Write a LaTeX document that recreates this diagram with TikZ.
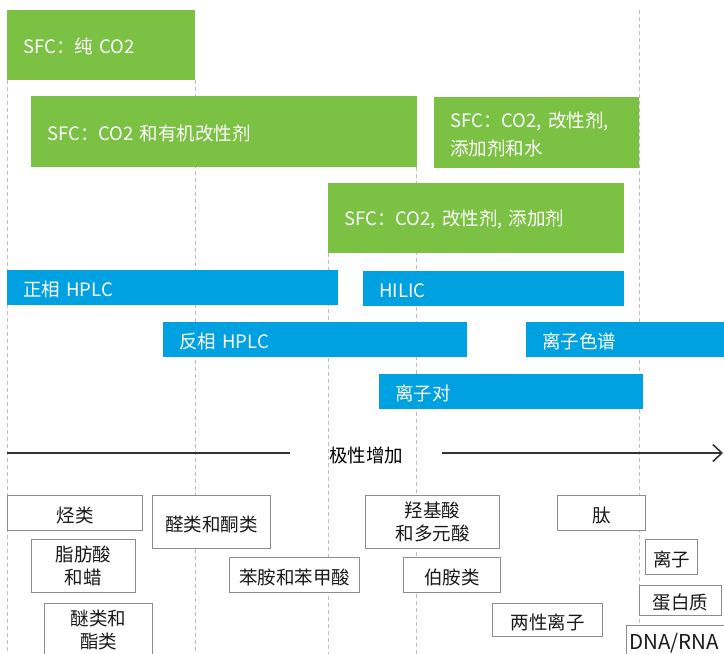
\documentclass[tikz,border=0pt]{standalone}
\usepackage{fontspec}
\setmainfont{Noto Sans CJK SC}
\usetikzlibrary{arrows.meta,backgrounds}
\definecolor{sfcgreen}{HTML}{7BC143}
\definecolor{hplcblue}{HTML}{00A1E1}
\definecolor{boxgray}{HTML}{8C8C8C}
\definecolor{gridgray}{HTML}{BDBDBD}
\definecolor{axisgray}{HTML}{333333}
\tikzset{
  colbox/.style={text=white, inner xsep=16pt, inner ysep=0pt, align=left, anchor=north west,
    font=\fontsize{18.5}{28}\selectfont, execute at begin node={\rule{0pt}{18.8pt}}},
  gb/.style={colbox, fill=sfcgreen},
  bb/.style={colbox, fill=hplcblue},
  wb/.style={draw=boxgray, fill=white, line width=1pt, align=center, anchor=north west,
    inner sep=0pt, text=black!90, font=\fontsize{18.5}{23.5}\selectfont,
    execute at begin node={\rule{0pt}{19.8pt}}},
  gridline/.style={draw=gridgray, dash pattern=on 4pt off 3pt, line width=0.9pt},
  axis/.style={draw=axisgray, line width=1.6pt}
}
\begin{document}
\begin{tikzpicture}[x=1pt,y=-1pt]
\useasboundingbox (0,0) rectangle (724,654);
% green SFC boxes
\node[gb, minimum height=70pt, text width=156pt] (g1) at (7,10) {SFC：纯 CO2};
\node[gb, minimum height=71pt, text width=354pt] (g2) at (31,96) {SFC：CO2 和有机改性剂};
\node[gb, minimum height=71pt, text width=173pt] (g3) at (434,97) {SFC：CO2, 改性剂,\\添加剂和水};
\node[gb, minimum height=70pt, text width=264pt] (g4) at (328,183) {SFC：CO2, 改性剂, 添加剂};
% blue HPLC boxes
\node[bb, minimum height=35pt, text width=299pt] (b1) at (7,270) {正相 HPLC};
\node[bb, minimum height=35pt, text width=229pt] (b2) at (363,271) {HILIC};
\node[bb, minimum height=35pt, text width=272pt] (b3) at (163,322) {反相 HPLC};
\node[bb, minimum height=35pt, text width=166pt] (b4) at (526,322) {离子色谱};
\node[bb, minimum height=35pt, text width=232pt] (b5) at (379,374) {离子对};
% axis
\coordinate (axL) at (7,453);
\coordinate (axR) at (723,453);
\node[inner xsep=39pt, inner ysep=0pt, text=black, font=\fontsize{18.5}{22}\selectfont] (pol) at (366,455) {极性增加};
\draw[axis] (axL) -- (pol.west |- axL);
\draw[axis, -{Straight Barb[length=9pt,width=17pt]}] (pol.east |- axL) -- (axR);
% analyte boxes
\node[wb, minimum width=135pt, minimum height=35pt] (c1) at (7,495) {烃类};
\node[wb, minimum width=118pt, minimum height=53pt] (c2) at (152,495) {醛类和酮类};
\node[wb, minimum width=104pt, minimum height=53pt] (c3) at (31,539) {脂肪酸\\和蜡};
\node[wb, minimum width=130pt, minimum height=35pt] (c4) at (229,557) {苯胺和苯甲酸};
\node[wb, minimum width=108pt, minimum height=53pt] (c5) at (44,603) {醚类和\\酯类};
\node[wb, minimum width=134pt, minimum height=53pt] (c6) at (365,495) {羟基酸\\和多元酸};
\node[wb, minimum width=97pt, minimum height=35pt] (c7) at (403,557) {伯胺类};
\node[wb, minimum width=88pt, minimum height=35pt] (c8) at (557,495) {肽};
\node[wb, minimum width=52pt, minimum height=35pt] (c9) at (645,539) {离子};
\node[wb, minimum width=82pt, minimum height=30pt] (c10) at (639,585) {蛋白质};
\node[wb, minimum width=110pt, minimum height=33pt] (c11) at (492,603) {两性离子};
\node[wb, minimum height=31pt, text width=100pt, align=left, inner xsep=3pt,
  font=\fontsize{20.5}{24}\selectfont] (c12) at (626,625) {DNA/RNA};
% dashed guide lines
\coordinate (bot) at (0,654);
\coordinate (top639) at (639,10);
\begin{pgfonlayer}{background}
\draw[gridline] (g1.south west) -- (g1.south west |- bot);
\draw[gridline] (g1.south east) -- (g1.south east |- bot);
\draw[gridline] (g4.south west) -- (g4.south west |- bot);
\draw[gridline] ([xshift=-1pt]g2.south east) -- ([xshift=-1pt]g2.south east |- bot);
\draw[gridline] (top639) -- (top639 |- bot);
\end{pgfonlayer}
\end{tikzpicture}
\end{document}
